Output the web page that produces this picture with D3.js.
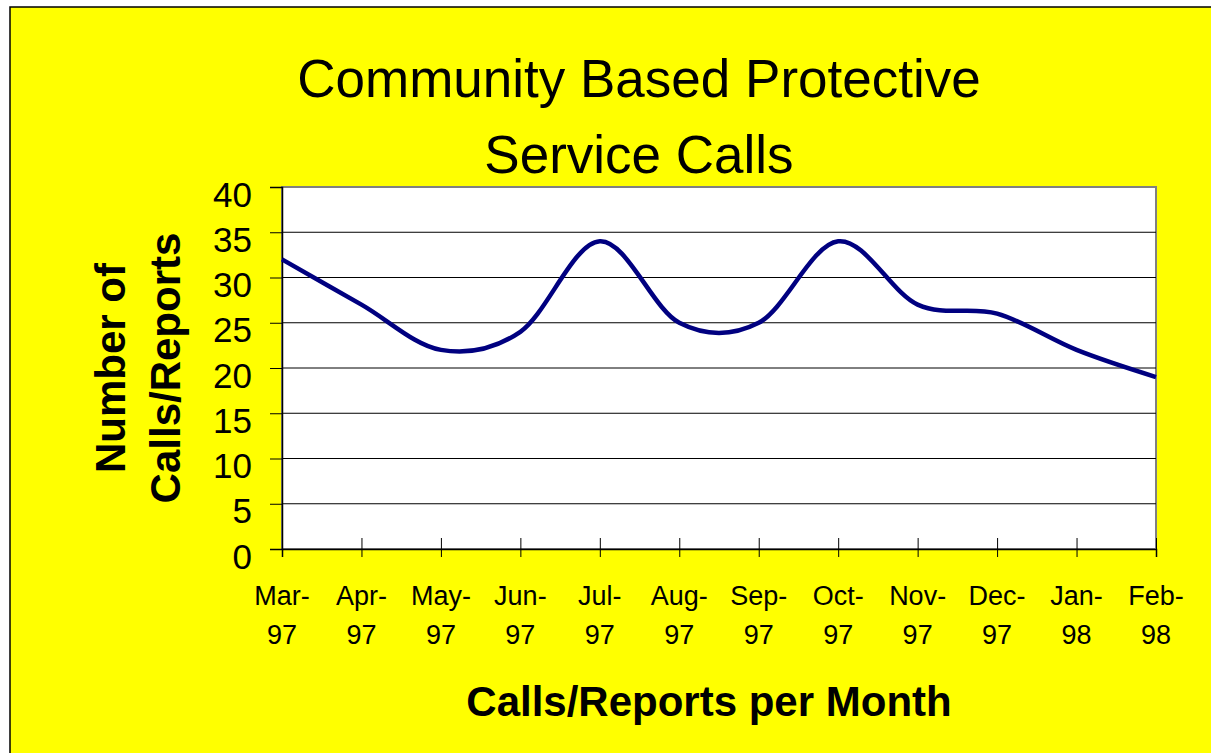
<!DOCTYPE html>
<html>
<head>
<meta charset="utf-8">
<script src="https://cdn.jsdelivr.net/npm/d3@7"></script>
<style>
  body { margin: 0; background: #fff; }
  svg text { font-family: "Liberation Sans", Arial, sans-serif; }
</style>
</head>
<body>
<svg id="chart" width="1211" height="753"></svg>
<script>
var months = ["Mar-97", "Apr-97", "May-97", "Jun-97", "Jul-97", "Aug-97",
    "Sep-97", "Oct-97", "Nov-97", "Dec-97", "Jan-98", "Feb-98"]
var calls = [32, 27, 22, 24, 34, 25, 25, 34, 27, 26, 22, 19]
var yTicks = [0, 5, 10, 15, 20, 25, 30, 35, 40]

var svg = d3.select('#chart')
var plot = { left: 282, right: 1156, top: 187, bottom: 549 }

// yellow slide with black frame running off the bottom/right
svg.append('rect')
    .attr('x', 10).attr('y', 7)
    .attr('width', 1230).attr('height', 780)
    .style('fill', '#ffff00')
    .style('stroke', '#000')
    .style('stroke-width', 1.5)

var x = d3.scalePoint()
    .domain(months)
    .range([plot.left, plot.right])

var y = d3.scaleLinear()
    .domain([0, 40])
    .range([plot.bottom, plot.top])

// plot area
svg.append('rect')
    .attr('x', plot.left).attr('y', plot.top)
    .attr('width', plot.right - plot.left)
    .attr('height', plot.bottom - plot.top)
    .style('fill', '#fff')
    .style('stroke', '#808080')
    .style('stroke-width', 2)

// gridlines
svg.append('g')
    .selectAll('line')
    .data(yTicks.filter(function (d) { return d > 0 && d < 40 }))
    .enter()
    .append('line')
    .attr('x1', plot.left).attr('x2', plot.right)
    .attr('y1', function (d) { return y(d) })
    .attr('y2', function (d) { return y(d) })
    .style('stroke', '#000')
    .style('stroke-width', 1)

// y axis
var yAxis = svg.append('g')
    .attr('transform', 'translate(' + plot.left + ',0)')
    .call(d3.axisLeft(y).tickValues(yTicks).tickSize(12).tickPadding(18))
yAxis.select('.domain').style('stroke', '#000').style('stroke-width', 1.5)
yAxis.selectAll('.tick line').style('stroke', '#000')
yAxis.selectAll('.tick text')
    .attr('dy', 19)
    .style('font-size', '35px')
    .style('fill', '#000')

// x axis, ticks cross the axis line
var xAxis = svg.append('g')
    .attr('transform', 'translate(0,' + plot.bottom + ')')
    .call(d3.axisBottom(x).tickSize(8).tickFormat(''))
xAxis.select('.domain').style('stroke', '#000').style('stroke-width', 1.5)
xAxis.selectAll('.tick line').attr('y1', -11).style('stroke', '#000')

var xLabels = svg.append('g')
    .selectAll('text')
    .data(months)
    .enter()
    .append('text')
    .attr('text-anchor', 'middle')
    .style('font-size', '27px')
    .style('fill', '#000')
xLabels.append('tspan')
    .attr('x', function (d) { return x(d) })
    .attr('y', 605)
    .text(function (d) { return d.split('-')[0] + '-' })
xLabels.append('tspan')
    .attr('x', function (d) { return x(d) })
    .attr('y', 644)
    .text(function (d) { return d.split('-')[1] })

// the line
var line = d3.line()
    .x(function (d, i) { return x(months[i]) })
    .y(function (d) { return y(d) })
    .curve(d3.curveCardinal.tension(0))

svg.append('path')
    .datum(calls)
    .attr('d', line)
    .style('fill', 'none')
    .style('stroke', '#000080')
    .style('stroke-width', 4.5)
    .style('stroke-linejoin', 'round')

// titles
svg.append('text')
    .attr('x', 639).attr('y', 97)
    .attr('text-anchor', 'middle')
    .style('font-size', '53px')
    .text('Community Based Protective')
svg.append('text')
    .attr('x', 639).attr('y', 173)
    .attr('text-anchor', 'middle')
    .style('font-size', '53px')
    .text('Service Calls')

svg.append('text')
    .attr('transform', 'translate(125,368) rotate(-90)')
    .attr('text-anchor', 'middle')
    .style('font-size', '42px')
    .style('font-weight', 'bold')
    .text('Number of')
svg.append('text')
    .attr('transform', 'translate(180,368) rotate(-90)')
    .attr('text-anchor', 'middle')
    .style('font-size', '42px')
    .style('font-weight', 'bold')
    .text('Calls/Reports')

svg.append('text')
    .attr('x', 709).attr('y', 716)
    .attr('text-anchor', 'middle')
    .style('font-size', '42px')
    .style('font-weight', 'bold')
    .text('Calls/Reports per Month')
</script>
</body>
</html>
